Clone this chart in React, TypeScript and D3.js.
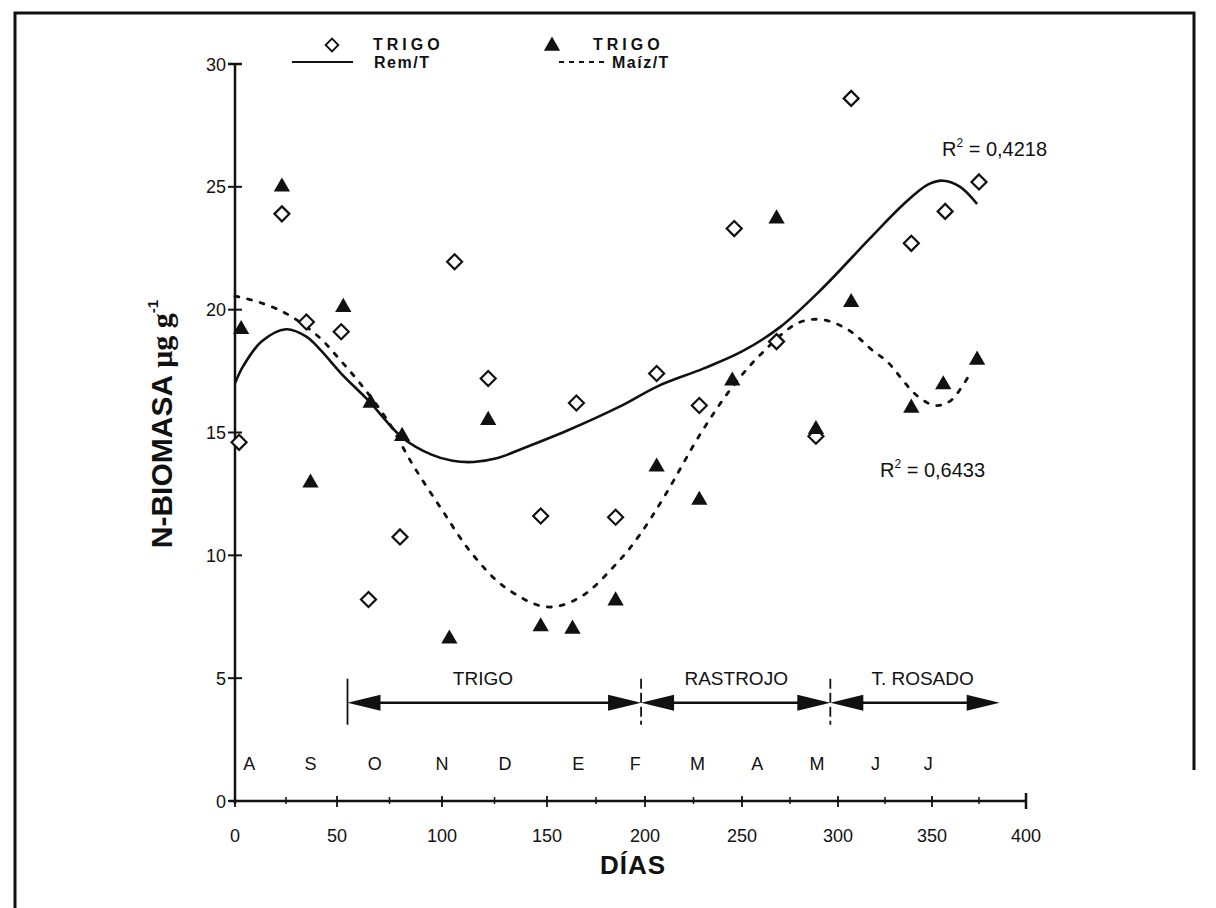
import React from "react";
import * as d3 from "d3";

// axis ticks
const dayTicks = [0, 50, 100, 150, 200, 250, 300, 350, 400];
const minorDayTicks = [25, 75, 125, 175, 225, 275, 325, 375];
const valueTicks = [0, 5, 10, 15, 20, 25, 30];

// TRIGO (open diamonds) - Rem/T
const remDays = [2, 23, 35, 52, 65, 80, 106, 122, 147, 165, 185, 206, 228, 246, 268, 288.5, 307, 339, 357, 375];
const remValues = [14.6, 23.9, 19.5, 19.1, 8.2, 10.75, 21.95, 17.2, 11.6, 16.2, 11.55, 17.4, 16.1, 23.3, 18.7, 14.85, 28.6, 22.7, 24.0, 25.2];

// TRIGO (filled triangles) - Maiz/T
const maizDays = [3, 23, 37, 53, 66, 81, 103.5, 122, 147, 163, 185, 206, 228, 245, 268, 288.5, 307, 339, 356, 374];
const maizValues = [19.2, 25.0, 12.95, 20.1, 16.2, 14.85, 6.6, 15.5, 7.1, 7.0, 8.15, 13.6, 12.25, 17.1, 23.7, 15.13, 20.3, 16.0, 16.95, 17.95];

// fitted trend curves
const remFitDays = [0, 4, 13, 25, 35, 42, 52, 65, 81, 95, 105, 115, 126, 137, 161, 187, 207, 230, 250, 270, 291, 317, 335, 348, 356, 365, 374];
const remFitValues = [17.0, 17.7, 18.7, 19.2, 18.9, 18.35, 17.4, 16.3, 14.8, 14.1, 13.85, 13.8, 13.95, 14.3, 15.1, 16.05, 16.9, 17.6, 18.3, 19.3, 20.8, 22.9, 24.3, 25.1, 25.25, 25.0, 24.3];

const maizFitDays = [0, 12, 26, 41, 51, 61, 74, 86, 100, 114, 130, 150, 167, 187, 197, 210, 229, 245, 260, 279, 291, 305, 319, 326, 342, 352, 360, 371];
const maizFitValues = [20.55, 20.3, 19.8, 18.9, 18.0, 17.0, 15.5, 13.7, 11.85, 10.1, 8.7, 7.9, 8.3, 9.8, 10.8, 12.4, 15.0, 16.85, 18.2, 19.45, 19.6, 19.2, 18.3, 17.9, 16.5, 16.1, 16.3, 17.5];

// months along the bottom
const monthLetters = ["A", "S", "O", "N", "D", "E", "F", "M", "A", "M", "J", "J"];
const monthDays = [7, 37, 68, 100, 130, 166, 195, 227, 258, 289, 320, 348];

// crop periods
const periodLabels = ["TRIGO", "RASTROJO", "T. ROSADO"];
const periodStarts = [55, 198, 296];
const periodEnds = [198, 296, 386];
const periodLabelDays = [119.5, 247, 345];
const periodLevel = 4.0;

const r2Texts = ["0,4218", "0,6433"];

const SANS = "'Liberation Sans', Arial, sans-serif";

export default function App() {
  const width = 1216;
  const height = 908;

  // the scan is slightly uneven along x, so the scale follows the printed ticks
  const x = d3.scaleLinear().domain(dayTicks).range([235, 337, 442, 547, 645, 742, 838, 932, 1026]);
  const y = d3.scaleLinear().domain([0, 30]).range([801, 64]);

  const remFit = d3.line<number>()
    .x((d, i) => x(remFitDays[i]))
    .y(d => y(d))
    .curve(d3.curveCatmullRom)(remFitValues);
  const maizFit = d3.line<number>()
    .x((d, i) => x(maizFitDays[i]))
    .y(d => y(d))
    .curve(d3.curveCatmullRom)(maizFitValues);

  const tri = d3.symbol().type(d3.symbolTriangle).size(115)();
  const diamond = "M0,-7.5L7.5,0L0,7.5L-7.5,0Z";

  const x0 = x(0);
  const y0 = y(0);
  const ay = y(periodLevel);

  const head = (tipX: number, dir: number) =>
    `M${tipX},${ay}L${tipX + dir * 33},${ay - 8}L${tipX + dir * 33},${ay + 8}Z`;

  return (
    <svg width={width} height={height} style={{ display: "block", position: "absolute", left: 0, top: 0 }} fontFamily={SANS}>
      <rect width={width} height={height} fill="#fff" />
      {/* frame */}
      <path d={`M15,${height}L15,13L1194,13L1194,770`} fill="none" stroke="#111" strokeWidth={3} />

      {/* legend */}
      <g fontWeight="bold" fontSize={16} fill="#111">
        <path d={diamond} transform="translate(332,45) scale(0.85)" fill="#fff" stroke="#111" strokeWidth={2.2} />
        <text x={373} y={50} letterSpacing={4}>TRIGO</text>
        <path d={tri} transform="translate(552,46)" fill="#111" />
        <text x={593} y={50} letterSpacing={4}>TRIGO</text>
        <line x1={292} x2={353} y1={62} y2={62} stroke="#111" strokeWidth={2} />
        <text x={374} y={68} letterSpacing={1.5}>Rem/T</text>
        <line x1={559} x2={607} y1={62} y2={62} stroke="#111" strokeWidth={2} strokeDasharray="5 5" />
        <text x={612} y={68} letterSpacing={1.5}>Maíz/T</text>
      </g>

      {/* y axis */}
      <line x1={x0} x2={x0} y1={y(30)} y2={y0 + 3} stroke="#111" strokeWidth={2.5} />
      <line x1={x0 - 7} x2={x0 + 7} y1={y(30)} y2={y(30)} stroke="#111" strokeWidth={2.5} />
      {valueTicks.map(v => (
        <g key={"yt" + v}>
          <line x1={x0 - 7} x2={x0 + 7} y1={y(v)} y2={y(v)} stroke="#111" strokeWidth={2} />
          <text x={226} y={y(v) + 6.5} textAnchor="end" fontSize={18} fill="#111">{v}</text>
        </g>
      ))}

      {/* x axis */}
      <line x1={x0 - 6} x2={x(400)} y1={y0} y2={y0} stroke="#111" strokeWidth={2.5} />
      <line x1={x(400)} x2={x(400)} y1={y0 - 8} y2={y0 + 8} stroke="#111" strokeWidth={2.5} />
      {dayTicks.map(d => (
        <g key={"xt" + d}>
          <line x1={x(d)} x2={x(d)} y1={y0 - 5} y2={y0 + 6} stroke="#111" strokeWidth={1.8} />
          <text x={x(d)} y={842} textAnchor="middle" fontSize={18} fill="#111">{d}</text>
        </g>
      ))}
      {minorDayTicks.map(d => (
        <line key={"mt" + d} x1={x(d)} x2={x(d)} y1={y0 - 4} y2={y0 + 3} stroke="#111" strokeWidth={1.5} />
      ))}

      {/* axis titles */}
      <text transform="translate(172,424) rotate(-90)" textAnchor="middle" fontSize={30} fontWeight="bold" fill="#111">
        N-BIOMASA{" "}
        <tspan fontFamily="'Liberation Serif', 'Times New Roman', serif">μg g</tspan>
        <tspan fontSize={15} dy={-14}>-1</tspan>
      </text>
      <text x={633} y={874} textAnchor="middle" fontSize={26} fontWeight="bold" letterSpacing={1} fill="#111">DÍAS</text>

      {/* months */}
      {monthLetters.map((m, i) => (
        <text key={"m" + i} x={x(monthDays[i])} y={770} textAnchor="middle" fontSize={18} fill="#111">{m}</text>
      ))}

      {/* crop periods */}
      {periodLabels.map((p, i) => (
        <g key={"p" + i}>
          <line x1={x(periodStarts[i]) + 20} x2={x(periodEnds[i]) - 20} y1={ay} y2={ay} stroke="#111" strokeWidth={2.5} />
          <path d={head(x(periodStarts[i]), 1)} fill="#111" />
          <path d={head(x(periodEnds[i]), -1)} fill="#111" />
          <text x={x(periodLabelDays[i])} y={685} textAnchor="middle" fontSize={19} fill="#111">{p}</text>
          <line x1={x(periodStarts[i])} x2={x(periodStarts[i])} y1={ay - 24} y2={ay + 22} stroke="#111" strokeWidth={1.8}
            strokeDasharray={i === 0 ? undefined : "10 4"} />
        </g>
      ))}

      {/* trend curves */}
      <path d={remFit ?? ""} fill="none" stroke="#111" strokeWidth={2.6} />
      <path d={maizFit ?? ""} fill="none" stroke="#111" strokeWidth={2.8} strokeDasharray="4 9" strokeLinecap="round" />

      {/* points */}
      {remValues.map((v, i) => (
        <path key={"r" + i} d={diamond} transform={`translate(${x(remDays[i])},${y(v)})`} fill="#fff" stroke="#111" strokeWidth={2.2} />
      ))}
      {maizValues.map((v, i) => (
        <path key={"z" + i} d={tri} transform={`translate(${x(maizDays[i])},${y(v)})`} fill="#111" />
      ))}

      {/* R2 */}
      <text x={942} y={156} fontSize={20} fill="#111">
        R<tspan fontSize={12} dy={-9}>2</tspan><tspan dy={9}> = {r2Texts[0]}</tspan>
      </text>
      <text x={880} y={477} fontSize={20} fill="#111">
        R<tspan fontSize={12} dy={-9}>2</tspan><tspan dy={9}> = {r2Texts[1]}</tspan>
      </text>
    </svg>
  );
}
